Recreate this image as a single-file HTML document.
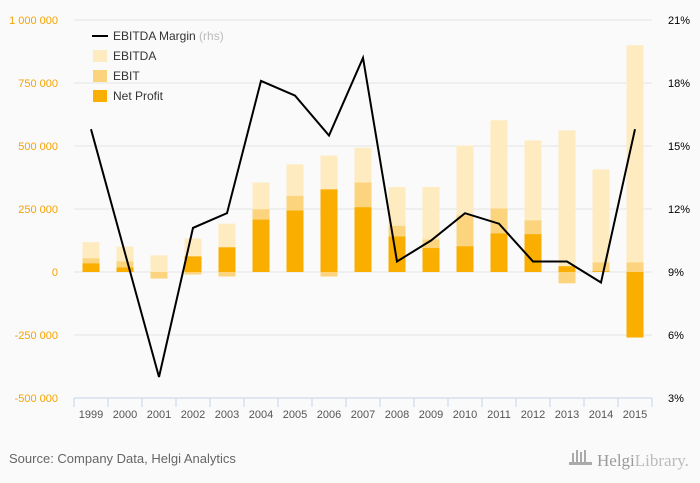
<!DOCTYPE html>
<html><head><meta charset="utf-8"><style>
body{margin:0;background:#fafafa;font-family:"Liberation Sans","DejaVu Sans",sans-serif}
svg{display:block}
</style></head><body>
<svg id="c" width="700" height="483" viewBox="0 0 700 483">
<rect width="700" height="483" fill="#fafafa"/>
<g id="grid"></g><g id="bars"></g><g id="line"></g><g id="axes"></g>
<g>
<line x1="92" y1="36" x2="108" y2="36" stroke="#000" stroke-width="2"/>
<text x="113" y="40" font-size="12" fill="#333">EBITDA Margin <tspan fill="#bbb">(rhs)</tspan></text>
<rect x="93" y="50" width="14" height="12" fill="#feebc0"/>
<text x="113" y="60" font-size="12" fill="#333">EBITDA</text>
<rect x="93" y="70" width="14" height="12" fill="#fcd47e"/>
<text x="113" y="80" font-size="12" fill="#333">EBIT</text>
<rect x="93" y="90" width="14" height="12" fill="#f9ae00"/>
<text x="113" y="100" font-size="12" fill="#333">Net Profit</text>
</g>
<text x="9" y="463" font-size="13" fill="#666">Source: Company Data, Helgi Analytics</text>
<g>
<g fill="#aaa"><rect x="572" y="453" width="2" height="9"/><rect x="576" y="450" width="2" height="12"/><rect x="580" y="452" width="2" height="10"/><rect x="584" y="450" width="2" height="12"/><rect x="569" y="462" width="23" height="3"/></g>
<text x="597" y="466" font-size="17" font-family="Liberation Serif,serif" fill="#999">Helgi<tspan fill="#bbb">Library.</tspan></text>
</g>
</svg>
<script>
const years=["1999","2000","2001","2002","2003","2004","2005","2006","2007","2008","2009","2010","2011","2012","2013","2014","2015"];
const ebitda=[118000,101000,66000,133000,192000,355000,427000,462000,493000,337000,337000,502000,602000,522000,562000,407000,900000];
const ebit=[54000,42000,-26000,-10000,-18000,249000,302000,-18000,355000,183000,129000,225000,252000,205000,-45000,38000,38000];
const netProfit=[34000,18000,0,62000,98000,208000,244000,328000,257000,141000,95000,102000,153000,150000,23000,3000,-260000];
const margin=[15.8,9.9,4.0,11.1,11.8,18.1,17.4,15.5,19.2,9.5,10.5,11.8,11.3,9.5,9.5,8.5,15.8];
const leftTicks=[1000000,750000,500000,250000,0,-250000,-500000];
const leftTickLabels=["1 000 000","750 000","500 000","250 000","0","-250 000","-500 000"];
const rightTicks=[21,18,15,12,9,6,3];
const NS="http://www.w3.org/2000/svg";
const x0=74,x1=652,yTop=20,yBot=398;
const bw=(x1-x0)/years.length;
function xC(i){return x0+bw*(i+0.5);}
function yL(v){return yTop+(1000000-v)/1500000*(yBot-yTop);}
function yR(v){return yTop+(21-v)/18*(yBot-yTop);}
function mk(tag,attrs,parent,txt){const e=document.createElementNS(NS,tag);for(const k in attrs)e.setAttribute(k,attrs[k]);if(txt!==undefined)e.textContent=txt;parent.appendChild(e);return e;}
const grid=document.getElementById('grid'),bars=document.getElementById('bars'),line=document.getElementById('line'),axes=document.getElementById('axes');
leftTicks.forEach((t,i)=>{
 if(i<leftTicks.length-1){const g=mk('line',{x1:x0,x2:x1,y1:yL(t),y2:yL(t),stroke:'#e4e4e4','stroke-width':1},grid);
 
 }
 const l=mk('text',{x:58,y:yL(t)+4,'font-size':11,fill:'#f5a300','text-anchor':'end'},axes,leftTickLabels[i]);
 
 
});
rightTicks.forEach(t=>{
 const l=mk('text',{x:668,y:yR(t)+4,'font-size':11,fill:'#000'},axes,t+'%');
 
 
});
const ax=mk('line',{x1:x0,x2:x1,y1:yBot,y2:yBot,stroke:'#c8d4e8'},axes);


for(let i=0;i<=years.length;i++){
 const tk=mk('line',{x1:x0+bw*i,x2:x0+bw*i,y1:yBot,y2:yBot+9,stroke:'#c8d4e8'},axes);
 
 
}
years.forEach((y,i)=>{
 const l=mk('text',{x:xC(i),y:418,'font-size':11,fill:'#555','text-anchor':'middle'},axes,y);
 
 
});
function bar(v,i,fill,name){
 const a=yL(v),b=yL(0);
 const r=mk('rect',{x:xC(i)-8.5,y:Math.min(a,b),width:17,height:Math.abs(b-a),fill:fill},bars);
 
 
}
years.forEach((y,i)=>{
 bar(ebitda[i],i,'#feebc0','bar-ebitda-'+y);
 bar(ebit[i],i,'#fcd47e','bar-ebit-'+y);
 bar(netProfit[i],i,'#f9ae00','bar-net-profit-'+y);
});
const pts=margin.map((m,i)=>xC(i)+','+yR(m)).join(' ');
const pl=mk('polyline',{points:pts,fill:'none',stroke:'#000','stroke-width':2,'stroke-linejoin':'miter'},line);


</script>
</body></html>
